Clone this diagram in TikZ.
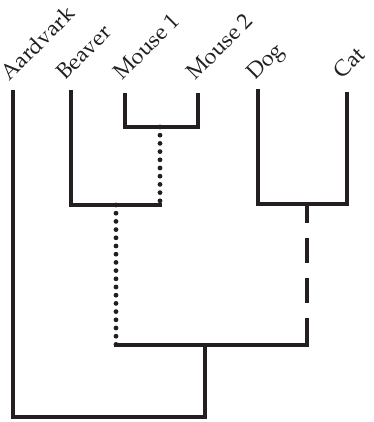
\documentclass[tikz,border=0pt]{standalone}
\usepackage[T1]{fontenc}
\usepackage{mathpazo}
\definecolor{ink}{HTML}{231F20}
\begin{document}
\begin{tikzpicture}[x=1pt,y=-1pt,
  branch/.style={draw=ink, line width=4.2pt},
  dotbranch/.style={draw=ink, line width=4.8pt, line cap=round, dash pattern=on 0pt off 8.2pt},
  dashbranch/.style={draw=ink, line width=4.2pt, dash pattern=on 25pt off 15pt, dash phase=6pt},
  taxon/.style={rotate=45, anchor=base west, inner sep=0pt, text=ink, font=\fontsize{22}{26}\selectfont}]
\useasboundingbox (0,0) rectangle (373,422);
% leaf tops
\coordinate (A)  at (13,90);
\coordinate (B)  at (71,90);
\coordinate (M1) at (125,93);
\coordinate (M2) at (198,93);
\coordinate (D)  at (258,89);
\coordinate (C)  at (347,92);
% labels
\node[taxon] (lA)  at (9,82)   {Aardvark};
\node[taxon] (lB)  at (65,81)  {Beaver};
\node[taxon] (lM1) at (122,81) {Mouse 1};
\node[taxon] (lM2) at (195,81) {Mouse 2};
\node[taxon] (lD)  at (255,81) {Dog};
\node[taxon] (lC)  at (342,80) {Cat};
% internal junctions
\coordinate (mm)  at (160,127);
\coordinate (mmb) at (160,205);
\coordinate (bm)  at (116,205);
\coordinate (bmb) at (116,345);
\coordinate (dc)  at (307,204);
\coordinate (dcb) at (307,345);
\coordinate (rt)  at (205,345);
\coordinate (rtb) at (205,417);
% mouse clade
\draw[branch] (M1) |- (mm) -| (M2);
\draw[dotbranch] (mm) -- (mmb);
% beaver + mice
\draw[branch] (B) |- ([xshift=2pt]mmb);
\draw[dotbranch] (bm) -- (bmb);
% dog + cat
\draw[branch] (D) |- (dc) -| (C);
\draw[dashbranch] (dc) -- (dcb);
% rodents + carnivores
\draw[branch] ([xshift=-2pt]bmb) -- ([xshift=2pt]dcb);
% root
\draw[branch] (A) |- (rtb) -- (rt);
\end{tikzpicture}
\end{document}
